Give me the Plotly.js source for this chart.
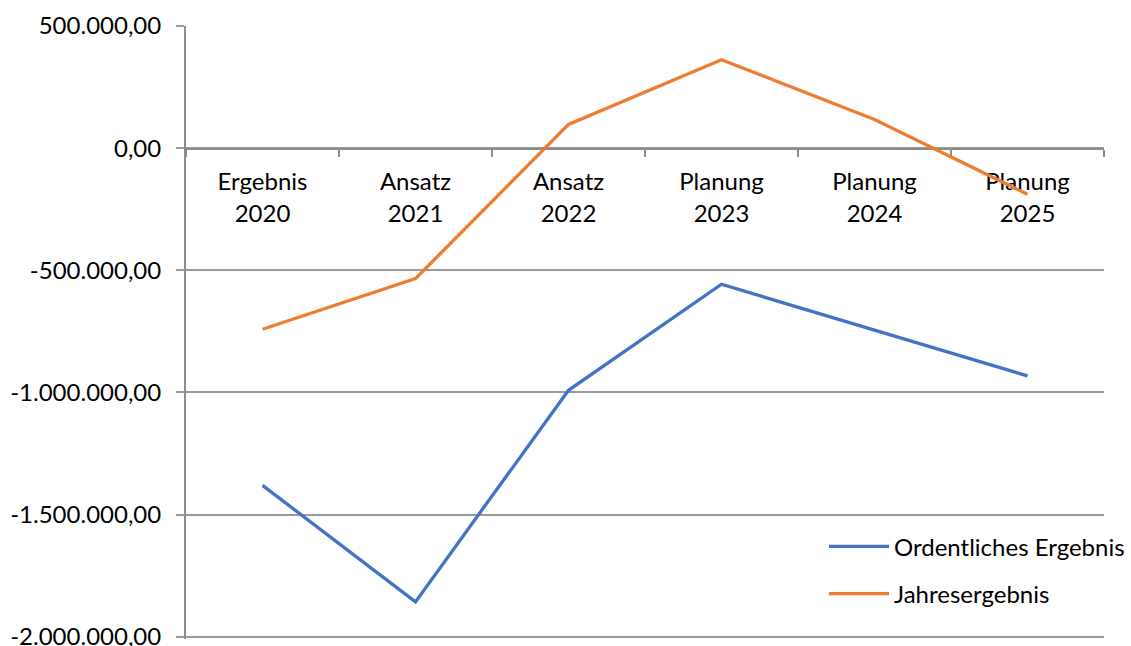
<!DOCTYPE html>
<html>
<head>
<meta charset="utf-8">
<script src="https://cdn.plot.ly/plotly-3.0.1.min.js"></script>
<style>html,body{margin:0;padding:0;background:#fff;}#chart{width:1131px;height:646px;}</style>
</head>
<body>
<div id="chart"></div>
<script>
const categories = ["Ergebnis<br>2020", "Ansatz<br>2021", "Ansatz<br>2022", "Planung<br>2023", "Planung<br>2024", "Planung<br>2025"];
const ordentlichesErgebnis = [-1380000, -1857000, -991000, -557000, -745000, -932000];
const jahresergebnis = [-741000, -534000, 97000, 362000, 117000, -189000];
const yTickValues = [500000, 0, -500000, -1000000, -1500000, -2000000];

function deFormat(v) {
  const neg = v < 0;
  const s = Math.abs(v).toFixed(0).replace(/\B(?=(\d{3})+(?!\d))/g, '.');
  return (neg ? '-' : '') + s + ',00';
}
const yTickText = yTickValues.map(deFormat);

const traces = [
  {
    x: categories, y: ordentlichesErgebnis, type: 'scatter', mode: 'lines',
    name: 'Ordentliches Ergebnis', legendgroup: 'a',
    line: {color: '#4472C4', width: 3.3}
  },
  {
    x: categories, y: jahresergebnis, type: 'scatter', mode: 'lines',
    name: 'Jahresergebnis', legendgroup: 'b',
    line: {color: '#ED7D31', width: 3.3}
  }
];

const layout = {
  width: 1131, height: 646,
  margin: {l: 186, r: 27, t: 25.5, b: 7.2, pad: 0, autoexpand: false},
  paper_bgcolor: '#fff', plot_bgcolor: '#fff',
  font: {family: 'Lato, "Open Sans", sans-serif', size: 24, color: '#000'},
  showlegend: true,
  legend: {
    x: 0.695, y: 0.187, xanchor: 'left', yanchor: 'top',
    bgcolor: 'rgba(0,0,0,0)', font: {size: 24, color: '#000'},
    traceorder: 'grouped', tracegroupgap: 13, itemwidth: 60
  },
  xaxis: {
    type: 'category', range: [-0.5, 5.5],
    anchor: 'free', position: 0.8,
    showline: true, linecolor: '#8c8c8c', linewidth: 2,
    showgrid: false, zeroline: false,
    ticks: 'outside', tickson: 'boundaries', ticklen: 7, tickcolor: '#8c8c8c', tickwidth: 2,
    ticklabelstandoff: 12,
    layer: 'below traces',
    tickfont: {size: 24, color: '#000'}
  },
  yaxis: {
    range: [-2009000, 500000],
    tickvals: yTickValues, ticktext: yTickText,
    ticklabeloverflow: 'allow',
    showline: true, linecolor: '#8c8c8c', linewidth: 2,
    showgrid: true, gridcolor: '#9a9a9a', gridwidth: 2,
    zeroline: false,
    ticks: 'outside', ticklen: 8, tickcolor: '#9a9a9a', tickwidth: 2,
    ticklabelstandoff: 10,
    layer: 'below traces',
    tickfont: {size: 24, color: '#000'}
  }
};

Plotly.newPlot('chart', traces, layout, {staticPlot: true, displayModeBar: false});
</script>
</body>
</html>
